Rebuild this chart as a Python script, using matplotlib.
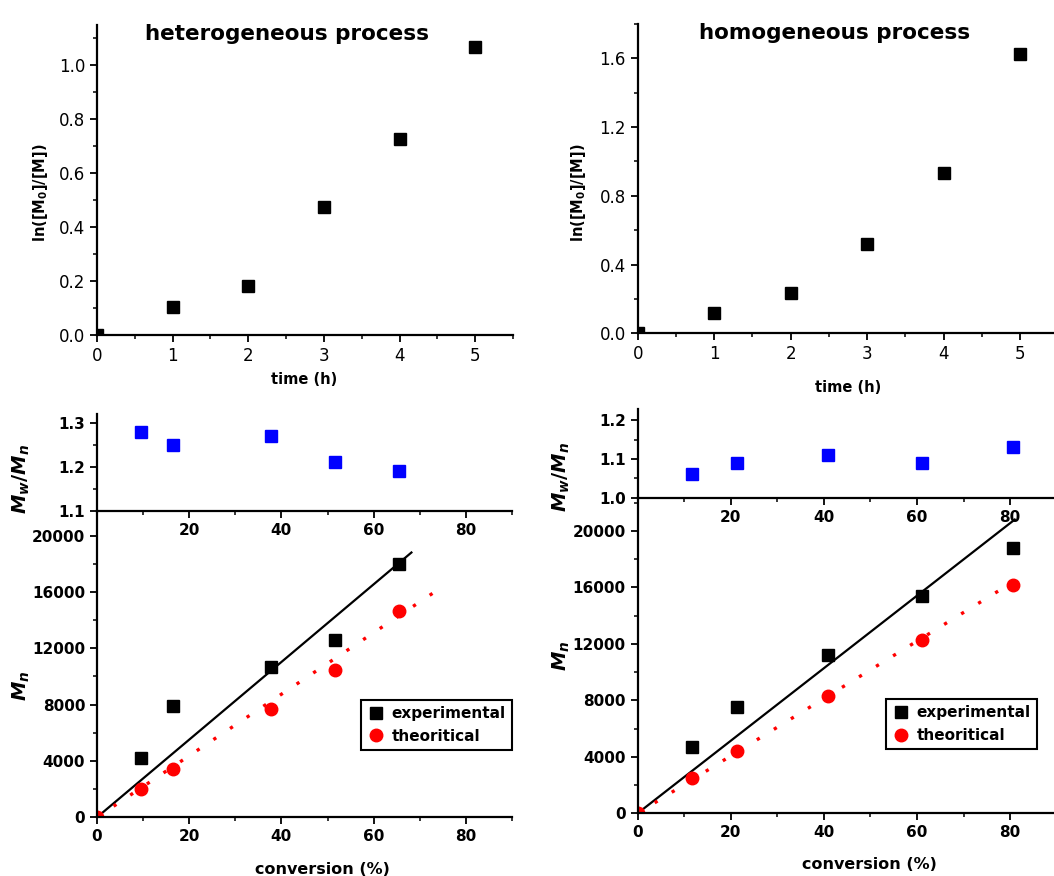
import matplotlib.pyplot as plt
from matplotlib.ticker import MultipleLocator

plt.rcParams['mathtext.fontset'] = 'custom'
plt.rcParams['mathtext.rm'] = 'DejaVu Sans:bold'
plt.rcParams['mathtext.it'] = 'DejaVu Sans:italic:bold'
plt.rcParams['mathtext.bf'] = 'DejaVu Sans:bold'

# kinetics, ln([M0]/[M]) vs time
time_h = [0, 1, 2, 3, 4, 5]
ln_het = [0.0, 0.105, 0.183, 0.475, 0.728, 1.068]
ln_hom = [0.0, 0.12, 0.232, 0.518, 0.934, 1.625]

# heterogeneous: conversion, dispersity, Mn
conv_het = [9.6, 16.5, 37.7, 51.7, 65.6]
pdi_het = [1.28, 1.25, 1.27, 1.21, 1.19]
mn_exp_het = [4200, 7900, 10700, 12600, 18000]
conv_het_th = [0, 9.6, 16.5, 37.7, 51.7, 65.6]
mn_th_het = [0, 2000, 3450, 7670, 10460, 14670]
fit_exp_het_x = [0, 68.2]
fit_exp_het_y = [0, 18800]
fit_th_het_x = [0, 73.7]
fit_th_het_y = [0, 16100]

# homogeneous
conv_hom = [11.7, 21.3, 40.8, 61.1, 80.6]
pdi_hom = [1.06, 1.09, 1.11, 1.09, 1.13]
mn_exp_hom = [4700, 7500, 11200, 15400, 18800]
conv_hom_th = [0, 11.7, 21.3, 40.8, 61.1, 80.6]
mn_th_hom = [0, 2500, 4400, 8300, 12300, 16200]
fit_exp_hom_x = [0, 81.0]
fit_exp_hom_y = [0, 20800]
fit_th_hom_x = [0, 82.7]
fit_th_hom_y = [0, 16800]


def style(ax, bold=False, size=12):
    for s in ['top', 'right']:
        ax.spines[s].set_visible(False)
    for s in ['left', 'bottom']:
        ax.spines[s].set_linewidth(1.6)
    ax.tick_params(which='major', direction='out', length=5, width=1.3, labelsize=size)
    ax.tick_params(which='minor', direction='out', length=3, width=1.1)
    if bold:
        for lab in ax.get_xticklabels() + ax.get_yticklabels():
            lab.set_fontweight('bold')


fig = plt.figure(figsize=(10.54, 8.76), dpi=100)

# top panels
ax1 = fig.add_axes([0.092, 0.6176, 0.3947, 0.354])
ax1.plot(time_h, ln_het, 's', color='black', ms=8.5)
ax1.set_xlim(0, 5.5)
ax1.set_ylim(0, 1.15)
ax1.xaxis.set_major_locator(MultipleLocator(1))
ax1.xaxis.set_minor_locator(MultipleLocator(0.5))
ax1.yaxis.set_major_locator(MultipleLocator(0.2))
ax1.yaxis.set_minor_locator(MultipleLocator(0.1))
ax1.yaxis.set_major_formatter(lambda v, p: f'{v:.1f}')
style(ax1)
ax1.set_xlabel('time (h)', fontsize=10.5, fontweight='bold')
ax1.xaxis.set_label_coords(0.497, -0.118)
ax1.set_ylabel('ln([M$_0$]/[M])', fontsize=10.5, fontweight='bold')
ax1.yaxis.set_label_coords(-0.113, 0.458)

ax2 = fig.add_axes([0.605, 0.6195, 0.3992, 0.3531])
ax2.plot(time_h, ln_hom, 's', color='black', ms=8.5)
ax2.set_xlim(0, 5.5)
ax2.set_ylim(0, 1.8)
ax2.xaxis.set_major_locator(MultipleLocator(1))
ax2.xaxis.set_minor_locator(MultipleLocator(0.5))
ax2.yaxis.set_major_locator(MultipleLocator(0.4))
ax2.yaxis.set_minor_locator(MultipleLocator(0.2))
ax2.yaxis.set_major_formatter(lambda v, p: f'{v:.1f}')
style(ax2)
ax2.set_xlabel('time (h)', fontsize=10.5, fontweight='bold')
ax2.xaxis.set_label_coords(0.50, -0.151)
ax2.set_ylabel('ln([M$_0$]/[M])', fontsize=10.5, fontweight='bold')
ax2.yaxis.set_label_coords(-0.118, 0.454)

fig.text(0.2725, 0.961, 'heterogeneous process', fontsize=15.5, fontweight='bold',
         ha='center', va='center')
fig.text(0.792, 0.962, 'homogeneous process', fontsize=15.5, fontweight='bold',
         ha='center', va='center')


def lower(pos_pdi, pos_mn, conv, pdi, mn_exp, conv_th, mn_th, fx, fy, tx, ty,
          pdi_lim, mn_top, labs, leg_anchor):
    axm = fig.add_axes(pos_mn)
    axm.patch.set_visible(False)
    axm.plot(fx, fy, '-', color='black', lw=1.6)
    axm.plot(tx, ty, color='#ff0000', lw=2.4, ls=(0, (1, 5)))
    axm.plot(conv, mn_exp, 's', color='black', ms=8, label='experimental')
    axm.plot(conv_th, mn_th, 'o', color='#ff0000', ms=9, label='theoritical')
    axm.set_xlim(0, 90)
    axm.set_ylim(0, mn_top)
    axm.xaxis.set_major_locator(MultipleLocator(20))
    axm.xaxis.set_minor_locator(MultipleLocator(10))
    axm.yaxis.set_major_locator(MultipleLocator(4000))
    axm.yaxis.set_minor_locator(MultipleLocator(2000))
    style(axm, bold=True, size=11)
    axm.set_ylabel('$M_n$', fontsize=14)
    axm.yaxis.set_label_coords(labs[2], labs[3])
    axm.set_xlabel('conversion (%)', fontsize=11.5, fontweight='bold')
    axm.xaxis.set_label_coords(labs[4], labs[5])
    leg = axm.legend(loc=leg_anchor[0], bbox_to_anchor=leg_anchor[1], frameon=True,
                     fancybox=False, framealpha=1, edgecolor='black',
                     borderaxespad=0, handletextpad=0.4, handlelength=1.2,
                     prop={'weight': 'bold', 'size': 11})
    leg.get_frame().set_linewidth(1.5)

    axp = fig.add_axes(pos_pdi)
    axp.patch.set_visible(False)
    axp.plot(conv, pdi, 's', color='#0000ff', ms=8)
    axp.set_xlim(0, 90)
    axp.set_ylim(*pdi_lim)
    axp.set_xticks([0, 20, 40, 60, 80])
    axp.set_xticklabels(['', '20', '40', '60', '80'])
    axp.xaxis.set_minor_locator(MultipleLocator(10))
    axp.yaxis.set_major_locator(MultipleLocator(0.1))
    axp.yaxis.set_minor_locator(MultipleLocator(0.05))
    axp.yaxis.set_major_formatter(lambda v, p: f'{v:.1f}')
    style(axp, bold=True, size=11)
    axp.set_ylabel('$M_w/M_n$', fontsize=14)
    axp.yaxis.set_label_coords(labs[0], labs[1])


lower([0.092, 0.4167, 0.3937, 0.1107], [0.092, 0.067, 0.3937, 0.3497],
      conv_het, pdi_het, mn_exp_het, conv_het_th, mn_th_het,
      fit_exp_het_x, fit_exp_het_y, fit_th_het_x, fit_th_het_y,
      (1.1, 1.32), 21750, (-0.157, 0.33, -0.157, 0.43, 0.543, -0.145),
      ('lower right', (1.0, 0.22)))

lower([0.605, 0.4318, 0.3975, 0.101], [0.605, 0.0716, 0.3975, 0.3603],
      conv_hom, pdi_hom, mn_exp_hom, conv_hom_th, mn_th_hom,
      fit_exp_hom_x, fit_exp_hom_y, fit_th_hom_x, fit_th_hom_y,
      (1.0, 1.228), 22350, (-0.157, 0.23, -0.157, 0.50, 0.552, -0.1375),
      ('lower left', (0.593, 0.203)))

fig.savefig('out.png', dpi=100, facecolor='white')
